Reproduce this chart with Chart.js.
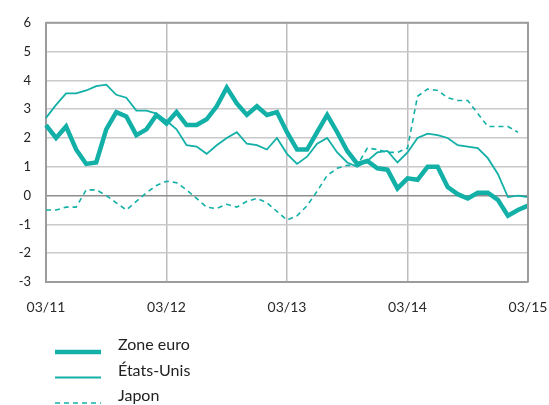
<!DOCTYPE html>
<html>
<head>
<meta charset="utf-8">
<script src="https://cdn.jsdelivr.net/npm/chart.js@4"></script>
<style>
  body { margin: 0; background: #fff; }
</style>
</head>
<body>
<canvas id="myChart" width="549" height="405"></canvas>
<script>
const myChart = document.getElementById("myChart");

// monthly, 03/11 .. 03/15
const months = [
  "03/11", "04/11", "05/11", "06/11", "07/11", "08/11", "09/11", "10/11", "11/11", "12/11", "01/12", "02/12",
  "03/12", "04/12", "05/12", "06/12", "07/12", "08/12", "09/12", "10/12", "11/12", "12/12", "01/13", "02/13",
  "03/13", "04/13", "05/13", "06/13", "07/13", "08/13", "09/13", "10/13", "11/13", "12/13", "01/14", "02/14",
  "03/14", "04/14", "05/14", "06/14", "07/14", "08/14", "09/14", "10/14", "11/14", "12/14", "01/15", "02/15",
  "03/15",
];
const tickLabels = ["03/11", "03/12", "03/13", "03/14", "03/15"];

const zoneEuro = [
  2.45, 2.0, 2.4, 1.6, 1.1, 1.15, 2.3, 2.9, 2.75, 2.1, 2.3, 2.8,
  2.5, 2.9, 2.45, 2.45, 2.65, 3.1, 3.75, 3.2, 2.8, 3.1, 2.8, 2.9,
  2.2, 1.6, 1.6, 2.2, 2.8, 2.2, 1.55, 1.1, 1.2, 0.95, 0.9, 0.25,
  0.6, 0.55, 1.0, 1.0, 0.3, 0.05, -0.1, 0.1, 0.1, -0.15, -0.7, -0.5, -0.35,
];
const etatsUnis = [
  2.7, 3.15, 3.55, 3.55, 3.65, 3.8, 3.85, 3.5, 3.4, 2.95, 2.95, 2.85,
  2.6, 2.3, 1.75, 1.7, 1.45, 1.75, 2.0, 2.2, 1.8, 1.75, 1.6, 2.0,
  1.45, 1.1, 1.35, 1.8, 2.0, 1.5, 1.15, 1.0, 1.2, 1.5, 1.55, 1.15,
  1.5, 2.0, 2.15, 2.1, 2.0, 1.75, 1.7, 1.65, 1.3, 0.75, -0.05, 0.0, -0.05,
];
const japon = [
  -0.5, -0.5, -0.4, -0.4, 0.2, 0.2, 0.0, -0.25, -0.5, -0.2, 0.1, 0.35,
  0.5, 0.45, 0.2, -0.1, -0.4, -0.45, -0.3, -0.4, -0.2, -0.1, -0.25, -0.55,
  -0.85, -0.7, -0.35, 0.15, 0.7, 0.95, 1.05, 1.05, 1.65, 1.6, 1.5, 1.5,
  1.65, 3.45, 3.7, 3.65, 3.4, 3.3, 3.3, 2.85, 2.4, 2.4, 2.4, 2.2, null,
];

const teal = "#12b0a7";
const axisGrey = "#9c9c9c";

// box on top/right + legend under the axis
const extras = {
  id: "extras",
  afterDraw(chart) {
    const ctx = chart.ctx;
    const a = chart.chartArea;
    ctx.save();
    ctx.strokeStyle = axisGrey;
    ctx.lineWidth = 2;
    ctx.beginPath();
    ctx.moveTo(a.left, a.top);
    ctx.lineTo(a.right, a.top);
    ctx.lineTo(a.right, a.bottom);
    ctx.stroke();

    ctx.font = "16px Lato";
    ctx.fillStyle = "#222";
    ctx.textBaseline = "alphabetic";
    chart.data.datasets.forEach((ds, i) => {
      const y = 352 + i * 25.5;
      ctx.strokeStyle = ds.borderColor;
      ctx.lineWidth = ds.borderWidth;
      ctx.setLineDash(ds.borderDash || []);
      ctx.beginPath();
      ctx.moveTo(55, y);
      ctx.lineTo(101, y);
      ctx.stroke();
      ctx.setLineDash([]);
      ctx.fillText(ds.label, 118, y - 2);
    });
    ctx.restore();
  },
};

new Chart(myChart, {
  type: "line",
  data: {
    labels: months,
    datasets: [
      { label: "Zone euro", data: zoneEuro, borderColor: teal, borderWidth: 4.5 },
      { label: "États-Unis", data: etatsUnis, borderColor: teal, borderWidth: 1.8 },
      { label: "Japon", data: japon, borderColor: teal, borderWidth: 1.6, borderDash: [5, 4] },
    ],
  },
  options: {
    responsive: false,
    animation: false,
    elements: { point: { radius: 0 }, line: { tension: 0 } },
    layout: { padding: { left: 0, right: 0, top: 19, bottom: 88 } },
    plugins: { legend: { display: false }, tooltip: { enabled: false } },
    scales: {
      x: {
        offset: false,
        afterFit: (s) => {
          s.height = 35;
          s.paddingLeft = 0;
          s.paddingRight = 21;
        },
        border: { color: axisGrey, width: 2 },
        grid: {
          drawTicks: false,
          lineWidth: 1.5,
          color: (c) => (c.index % 12 === 0 ? "#bdbdc0" : "rgba(0,0,0,0)"),
        },
        ticks: {
          autoSkip: false,
          maxRotation: 0,
          padding: 17,
          color: "#2a2a2a",
          font: { family: "Lato", size: 14 },
          callback: (v, i) => (i % 12 === 0 ? tickLabels[i / 12] : ""),
        },
      },
      y: {
        min: -3,
        max: 6,
        afterFit: (s) => { s.width = 46; },
        border: { color: axisGrey, width: 2 },
        grid: {
          drawTicks: false,
          lineWidth: 1.5,
          color: (c) => (c.tick && c.tick.value === 0 ? "#8e8e8e" : "#c9c9cc"),
        },
        ticks: {
          stepSize: 1,
          padding: 15,
          color: "#222",
          font: { family: "Lato", size: 13 },
        },
      },
    },
  },
  plugins: [extras],
});
</script>
</body>
</html>
